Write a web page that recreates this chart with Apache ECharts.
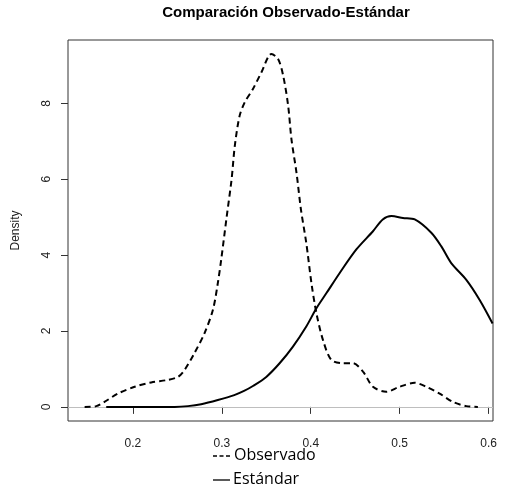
<!DOCTYPE html>
<html>
<head>
<meta charset="utf-8">
<script src="https://cdn.jsdelivr.net/npm/echarts@6/dist/echarts.min.js"></script>
<style>html,body{margin:0;padding:0;background:#fff}#c{width:523px;height:490px}</style>
</head>
<body>
<div id="c"></div>
<script>
var obsX = [0.1457,0.1588,0.168,0.183,0.202,0.2206,0.239,0.2506,0.258,0.269,0.2805,0.29,0.2955,0.2993,0.3053,0.311,0.3146,0.320,0.3258,0.335,0.3446,0.3558,0.3633,0.369,0.3746,0.3783,0.384,0.389,0.395,0.4008,0.4064,0.4138,0.4232,0.4363,0.4475,0.4588,0.470,0.485,0.500,0.5169,0.530,0.545,0.560,0.575,0.588];
var obsY = [0,0.02,0.13,0.35,0.53,0.645,0.71,0.79,0.97,1.41,1.94,2.56,3.26,3.88,4.98,6.0,6.88,7.67,8.03,8.38,8.82,9.30,9.17,8.73,7.94,7.06,6.17,5.2,4.32,3.26,2.47,1.76,1.24,1.15,1.15,0.93,0.53,0.40,0.53,0.635,0.53,0.35,0.13,0.02,0.0];
var stdX = [0.170,0.247,0.262,0.2768,0.2955,0.314,0.325,0.335,0.350,0.365,0.380,0.395,0.4064,0.4177,0.4326,0.4513,0.470,0.481,0.4907,0.5037,0.517,0.5356,0.5469,0.558,0.575,0.590,0.6045];
var stdY = [0,0,0.02,0.07,0.18,0.31,0.42,0.55,0.79,1.15,1.59,2.12,2.60,3.0,3.53,4.15,4.63,4.94,5.03,4.98,4.94,4.59,4.23,3.79,3.35,2.82,2.2];
var xTicks = [0.2,0.3,0.4,0.5,0.6];
var yTicks = [0,2,4,6,8];
var titleText = 'Comparación Observado-Estándar';
var yName = 'Density';
var seriesNames = ['Observado','Estándar'];

function pairs(xs, ys){ return xs.map(function(x,i){return [x, ys[i]];}); }

var legendFont = {fontFamily: 'Open Sans', fontSize: 16, fill: '#000', verticalAlign: 'middle', align: 'left'};

var chart = echarts.init(document.getElementById('c'));
chart.setOption({
  animation: false,
  backgroundColor: '#fff',
  title: {
    text: titleText, left: 281, top: 0, textAlign: 'center',
    textStyle: {fontFamily: 'Liberation Sans, Arial', fontWeight: 'bold', fontSize: 15, color: '#000'}
  },
  graphic: [
    {type: 'line', shape: {x1: 213, y1: 456, x2: 230, y2: 456}, style: {stroke: '#000', lineWidth: 1.3, lineDash: [4, 2.5]}},
    {type: 'text', x: 234, y: 455, style: Object.assign({text: seriesNames[0]}, legendFont)},
    {type: 'line', shape: {x1: 213, y1: 480, x2: 230, y2: 480}, style: {stroke: '#000', lineWidth: 1.3}},
    {type: 'text', x: 233, y: 479, style: Object.assign({text: seriesNames[1]}, legendFont)}
  ],
  grid: {left: 68, right: 30, top: 40, bottom: 69, show: true, borderColor: '#333', borderWidth: 1, backgroundColor: 'transparent'},
  xAxis: {
    type: 'value', min: 0.127, max: 0.605,
    axisLine: {show: false},
    splitLine: {show: false},
    axisTick: {show: true, length: 7, customValues: xTicks, lineStyle: {color: '#333'}},
    axisLabel: {customValues: xTicks, margin: 17, fontFamily: 'Liberation Sans, Arial', fontSize: 12, color: '#222',
      formatter: function(v){ return v.toFixed(1); }}
  },
  yAxis: {
    type: 'value', min: -0.372, max: 9.67,
    name: yName, nameLocation: 'middle', nameGap: 46, nameRotate: 90,
    nameTextStyle: {fontFamily: 'Liberation Sans, Arial', fontSize: 12, color: '#222'},
    axisLine: {show: false},
    splitLine: {show: false},
    axisTick: {show: true, length: 7, customValues: yTicks, lineStyle: {color: '#333'}},
    axisLabel: {customValues: yTicks, rotate: 90, margin: 15, fontFamily: 'Liberation Sans, Arial', fontSize: 12, color: '#222',
      formatter: function(v){ return String(v); }}
  },
  series: [
    {
      name: seriesNames[0], type: 'line', data: pairs(obsX, obsY), smooth: 0.3,
      symbol: 'none', z: 3,
      lineStyle: {color: '#000', width: 2, type: [6,4]},
      itemStyle: {color: '#000'},
      markLine: {
        silent: true, symbol: 'none', label: {show: false}, z: 1,
        lineStyle: {color: '#bebebe', width: 1, type: 'solid'},
        data: [{yAxis: 0}]
      }
    },
    {
      name: seriesNames[1], type: 'line', data: pairs(stdX, stdY), smooth: 0.3,
      symbol: 'none', z: 3,
      lineStyle: {color: '#000', width: 2, type: 'solid'},
      itemStyle: {color: '#000'}
    }
  ]
});
</script>
</body>
</html>
